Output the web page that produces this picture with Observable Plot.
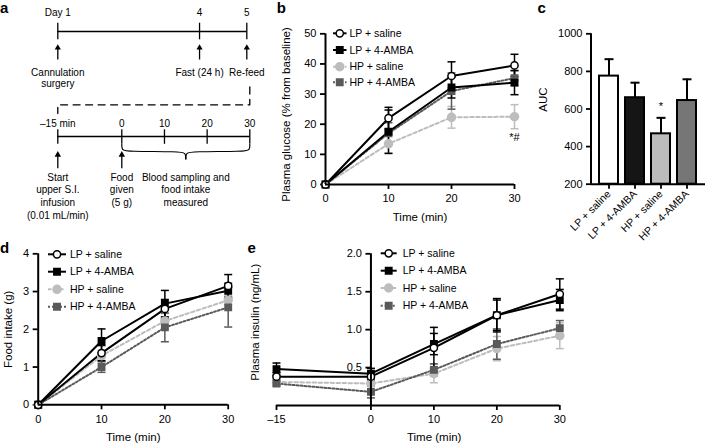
<!DOCTYPE html>
<html><head><meta charset="utf-8">
<script src="https://cdn.jsdelivr.net/npm/d3@7"></script>
<script src="https://cdn.jsdelivr.net/npm/@observablehq/plot@0.6"></script>
<style>
body{margin:0;background:#fff;}
#fig{position:relative;width:705px;height:444px;overflow:hidden;background:#fff;font-family:"Liberation Sans",Arial,sans-serif;}
#fig > *{position:absolute;}
.plab{font-weight:bold;font-size:15px;line-height:15px;color:#000;}
</style></head><body><div id="fig"></div>
<script>
// ---------------- data ----------------
const groups = ["LP + saline", "LP + 4-AMBA", "HP + saline", "HP + 4-AMBA"];

// panel a (protocol timeline)
const days = [1, 4, 5];
const dayLabels = ["Day 1", "4", "5"];
const dayEvents = ["Cannulation\nsurgery", "Fast (24 h)", "Re-feed"];
const minutes = [-15, 0, 10, 20, 30];
const minuteLabels = ["\u201315 min", "0", "10", "20", "30"];
const arrowMinutes = [-15, 0];
const minuteEventX = [-15, 0, 15];
const minuteEvents = ["Start\nupper S.I.\ninfusion\n(0.01 mL/min)", "Food\ngiven\n(5 g)", "Blood sampling and\nfood intake\nmeasured"];

// panel b: plasma glucose (% from baseline)
const timeB = [0, 10, 20, 30];
const glucLPsal = [0, 22, 36, 39.5];
const glucLPsalSem = [0, 3.6, 4.7, 3.7];
const glucLPamba = [0, 17.5, 32.2, 33.8];
const glucLPambaSem = [0, 7.2, 3.5, 4];
const glucHPsal = [0, 13.5, 22.3, 22.5];
const glucHPsalSem = [0, 3, 3.6, 4];
const glucHPamba = [0, 17, 31, 35.3];
const glucHPambaSem = [0, 3.5, 6, 2.5];
const glucTicks = [0, 10, 20, 30, 40, 50];

// panel c: AUC
const aucMean = [775, 660, 468, 645];
const aucSem = [90, 80, 85, 113];
const aucTicks = [200, 400, 600, 800, 1000];

// panel d: food intake (g)
const timeD = [0, 10, 20, 30];
const foodLPsal = [0, 1.37, 2.54, 3.15];
const foodLPsalSem = [0, 0.2, 0.25, 0.3];
const foodLPamba = [0, 1.69, 2.68, 3.02];
const foodLPambaSem = [0, 0.32, 0.35, 0.2];
const foodHPsal = [0, 1.3, 2.22, 2.77];
const foodHPsalSem = [0, 0.15, 0.2, 0.12];
const foodHPamba = [0, 1.0, 2.05, 2.58];
const foodHPambaSem = [0, 0.14, 0.38, 0.52];
const foodTicks = [0, 1, 2, 3, 4];

// panel e: plasma insulin (ng/mL)
const timeE = [-15, 0, 10, 20, 30];
const insLPsal = [0.38, 0.38, 0.76, 1.19, 1.47];
const insLPsalSem = [0.05, 0.06, 0.27, 0.22, 0.2];
const insLPamba = [0.48, 0.42, 0.81, 1.19, 1.39];
const insLPambaSem = [0.08, 0.07, 0.14, 0.2, 0.14];
const insHPsal = [0.31, 0.29, 0.42, 0.75, 0.92];
const insHPsalSem = [0.03, 0.04, 0.12, 0.16, 0.17];
const insHPamba = [0.29, 0.18, 0.47, 0.81, 1.02];
const insHPambaSem = [0.03, 0.08, 0.08, 0.2, 0.1];
const insTicks = [0.5, 1.0, 1.5, 2.0];

// ---------------- styles ----------------
const FONT = '"Liberation Sans", Arial, sans-serif';
const styles = {
  "LP + saline": {stroke: "#000", dash: null, sym: "circle", fill: "#fff", r: 3.6},
  "LP + 4-AMBA": {stroke: "#000", dash: null, sym: "square", fill: "#000", r: 3.6},
  "HP + saline": {stroke: "#bdbdbd", dash: "3.5,2.5", sym: "circle", fill: "#bdbdbd", r: 4},
  "HP + 4-AMBA": {stroke: "#5a5a5a", dash: "2,2", sym: "square", fill: "#5a5a5a", r: 3.6}
};
const barFill = ["#ffffff", "#151515", "#bcbcbc", "#767676"];
const capSym = {draw(ctx, size) { const w = Math.sqrt(size / Math.PI); ctx.moveTo(-w, 0); ctx.lineTo(w, 0); }};
const fig = document.getElementById("fig");

function rows(t, m, e, g) { return t.map((x, i) => ({t: x, m: m[i], e: e[i], g})); }

function place(el, left, top) {
  el.style.left = left + "px"; el.style.top = top + "px";
  el.style.background = "transparent"; el.style.overflow = "visible"; el.style.maxWidth = "none";
  fig.appendChild(el);
}

function seriesMarks(series) {
  const order = [2, 3, 1, 0];
  const marks = [];
  for (const i of order) {
    const d = series[i]; const st = styles[d[0].g];
    const de = d.filter(r => r.e > 0);
    marks.push(Plot.ruleX(de, {x: "t", y1: r => r.m - r.e, y2: r => r.m + r.e, stroke: st.stroke, strokeWidth: 1.5}));
    marks.push(Plot.dot(de, {x: "t", y: r => r.m + r.e, symbol: capSym, r: 4, stroke: st.stroke, strokeWidth: 1.5, fill: "none"}));
    marks.push(Plot.dot(de, {x: "t", y: r => r.m - r.e, symbol: capSym, r: 4, stroke: st.stroke, strokeWidth: 1.5, fill: "none"}));
  }
  for (const i of order) {
    const d = series[i]; const st = styles[d[0].g];
    marks.push(Plot.line(d, {x: "t", y: "m", stroke: st.stroke, strokeWidth: 2, strokeDasharray: st.dash}));
  }
  for (const i of order) {
    const d = series[i]; const st = styles[d[0].g];
    marks.push(Plot.dot(d, {x: "t", y: "m", symbol: st.sym, r: st.r, fill: st.fill, stroke: st.stroke, strokeWidth: 1.5}));
  }
  return marks;
}

function addLegend(svg, x0, x1, xt, ys) {
  const g = d3.select(svg).append("g").attr("font-size", 10.5).attr("font-family", FONT).attr("text-anchor", "start");
  groups.forEach((name, i) => {
    const st = styles[name]; const y = ys[i];
    g.append("line").attr("x1", x0).attr("x2", x1).attr("y1", y).attr("y2", y)
      .attr("stroke", st.stroke).attr("stroke-width", 2).attr("stroke-dasharray", st.dash);
    g.append("path").attr("transform", `translate(${(x0 + x1) / 2},${y})`)
      .attr("d", d3.symbol(st.sym === "circle" ? d3.symbolCircle : d3.symbolSquare, st.r * st.r * Math.PI)())
      .attr("fill", st.fill).attr("stroke", st.stroke).attr("stroke-width", 1.5);
    g.append("text").attr("x", xt).attr("y", y).attr("dy", "0.35em").attr("fill", "#000").attr("text-anchor", "start").text(name);
  });
}

const baseStyle = {fontFamily: FONT, fontSize: "11px", background: "transparent", overflow: "visible", color: "#000"};
const yLabel = (text, dx, dy) => Plot.text([text], {frameAnchor: "left", rotate: -90, dx, dy, textAnchor: "middle", lineAnchor: "middle", fontSize: 11.5, text: d => d});
const xLabel = (text, dx, dy) => Plot.text([text], {frameAnchor: "bottom", dx, dy, textAnchor: "middle", lineAnchor: "middle", fontSize: 11.5, text: d => d});

// ---------------- panel a ----------------
const a1 = Plot.plot({
  width: 270, height: 92, marginLeft: 57.3, marginRight: 23.7, marginTop: 0, marginBottom: 0,
  x: {domain: [1, 5], axis: null}, y: {domain: [92, 0], axis: null},
  style: {...baseStyle, fontSize: "10px"},
  marks: [
    Plot.ruleY([31], {x1: 1, x2: 5, strokeWidth: 1.3}),
    Plot.ruleX(days, {x: d => d, y1: 22.7, y2: 39.3, strokeWidth: 1.3}),
    Plot.text(days, {x: d => d, y: 12.7, text: (d, i) => dayLabels[i], fontSize: 10}),
    Plot.ruleX(days, {x: d => d, y1: 48, y2: 59.5, strokeWidth: 1.3}),
    Plot.dot(days, {x: d => d, y: 47.3, symbol: "triangle", r: 2.3, fill: "#000"}),
    Plot.text(days, {x: d => d, y: 67.5, text: (d, i) => dayEvents[i], lineAnchor: "top", lineHeight: 1.1, fontSize: 10})
  ]
});
place(a1, 0, 0);

const a2 = Plot.plot({
  width: 270, height: 146, marginLeft: 57.3, marginRight: 20.7, marginTop: 0, marginBottom: 0,
  x: {domain: [-15, 30], axis: null}, y: {domain: [230, 84], axis: null},
  style: {...baseStyle, fontSize: "10px"},
  marks: [
    Plot.line([[30, 86.5], [30, 104.3], [-15, 104.3], [-15, 113]], {x: d => d[0], y: d => d[1], strokeWidth: 1.3, strokeDasharray: "7,5.5"}),
    Plot.text(minutes, {x: d => d, y: 123.3, text: (d, i) => minuteLabels[i], fontSize: 10}),
    Plot.ruleY([136], {x1: -15, x2: 30, strokeWidth: 1.3}),
    Plot.ruleX(minutes, {x: d => d, y1: 129.3, y2: 143.8, strokeWidth: 1.3}),
    Plot.ruleX(arrowMinutes, {x: d => d, y1: 155, y2: 168.3, strokeWidth: 1.3}),
    Plot.dot(arrowMinutes, {x: d => d, y: 154.3, symbol: "triangle", r: 2.4, fill: "#000"}),
    Plot.line([[0, 143.8], [0, 149.5], [1.2, 151], [13.6, 151], [15, 152.5], [15, 158.5]], {x: d => d[0], y: d => d[1], curve: "basis", strokeWidth: 1.2}),
    Plot.line([[15, 158.5], [15, 152.5], [16.4, 151], [28.8, 151], [30, 149.5], [30, 143.8]], {x: d => d[0], y: d => d[1], curve: "basis", strokeWidth: 1.2}),
    Plot.text(minuteEventX, {x: d => d, y: 171.2, text: (d, i) => minuteEvents[i], lineAnchor: "top", lineHeight: 1.27, fontSize: 10})
  ]
});
place(a2, 0, 84);

// ---------------- panel b ----------------
const seriesB = [
  rows(timeB, glucLPsal, glucLPsalSem, groups[0]),
  rows(timeB, glucLPamba, glucLPambaSem, groups[1]),
  rows(timeB, glucHPsal, glucHPsalSem, groups[2]),
  rows(timeB, glucHPamba, glucHPambaSem, groups[3])
];
const pb = Plot.plot({
  width: 280, height: 230, marginLeft: 65, marginRight: 26, marginTop: 33.3, marginBottom: 46,
  x: {domain: [0, 30]}, y: {domain: [0, 50]},
  style: baseStyle,
  marks: [
    Plot.axisX({ticks: timeB, tickSize: 5, tickPadding: 5, strokeWidth: 1.8, label: null, tickFormat: d => String(d)}),
    Plot.axisY({ticks: glucTicks, tickSize: 5, tickPadding: 4, strokeWidth: 1.8, label: null, tickFormat: d => String(d)}),
    ...seriesMarks(seriesB),
    Plot.ruleX([0], {strokeWidth: 2}),
    Plot.ruleY([0], {strokeWidth: 2}),
    Plot.text(["*#"], {x: 30, y: 15.5, text: d => d, fontSize: 11}),
    yLabel("Plasma glucose (% from baseline)", -39, 5.3),
    xLabel("Time (min)", 0, 32.7)
  ]
});
addLegend(pb, 73, 86.5, 89.5, [33.3, 50, 66.7, 82.3]);
place(pb, 260, 0);

// ---------------- panel c ----------------
const aucRows = groups.map((g, i) => ({g, m: aucMean[i], e: aucSem[i]}));
const pc = Plot.plot({
  width: 185, height: 230, marginLeft: 71, marginRight: 0, marginTop: 33.3, marginBottom: 46.3,
  x: {domain: groups, paddingInner: 0.26, paddingOuter: 0.28, label: null},
  y: {domain: [200, 1000]},
  color: {domain: groups, range: barFill},
  style: baseStyle,
  marks: [
    Plot.ruleX(aucRows, {x: "g", y1: "m", y2: d => d.m + d.e, strokeWidth: 2}),
    Plot.dot(aucRows, {x: "g", y: d => d.m + d.e, symbol: capSym, r: 4.5, stroke: "#000", strokeWidth: 2, fill: "none"}),
    Plot.barY(aucRows, {x: "g", y1: 200, y2: "m", fill: "g", stroke: "#000", strokeWidth: 2}),
    Plot.text(aucRows.filter(d => d.g === "HP + saline"), {x: "g", y: d => d.m + d.e, dy: -11, text: () => "*", fontSize: 11}),
    Plot.ruleY([200], {strokeWidth: 2}),
    Plot.axisX({tickRotate: -45, tickSize: 5, tickPadding: 3, strokeWidth: 1.8, label: null, fontSize: 10.5}),
    Plot.axisY({ticks: aucTicks, tickSize: 5, tickPadding: 4, strokeWidth: 1.8, label: null, tickFormat: d => String(d)}),
    yLabel("AUC", -48, -9.5)
  ]
});
{
  const ys = pc.scale("y");
  d3.select(pc).append("line").attr("x1", 71).attr("x2", 71)
    .attr("y1", ys.apply(200)).attr("y2", ys.apply(1000)).attr("stroke", "#000").attr("stroke-width", 2);
}
place(pc, 520, 0);

// ---------------- panel d ----------------
const seriesD = [
  rows(timeD, foodLPsal, foodLPsalSem, groups[0]),
  rows(timeD, foodLPamba, foodLPambaSem, groups[1]),
  rows(timeD, foodHPsal, foodHPsalSem, groups[2]),
  rows(timeD, foodHPamba, foodHPambaSem, groups[3])
];
const pd = Plot.plot({
  width: 245, height: 214, marginLeft: 37.7, marginRight: 17.3, marginTop: 23.3, marginBottom: 39.7,
  x: {domain: [0, 30]}, y: {domain: [0, 4]},
  style: baseStyle,
  marks: [
    Plot.axisX({ticks: timeD, tickSize: 5, tickPadding: 5, strokeWidth: 1.8, label: null, tickFormat: d => String(d)}),
    Plot.axisY({ticks: foodTicks, tickSize: 5, tickPadding: 4, strokeWidth: 1.8, label: null, tickFormat: d => String(d)}),
    ...seriesMarks(seriesD),
    Plot.ruleX([0], {strokeWidth: 2}),
    Plot.ruleY([0], {strokeWidth: 2}),
    yLabel("Food intake (g)", -29.4, 0),
    xLabel("Time (min)", 0, 32.4)
  ]
});
addLegend(pd, 48, 66, 70, [24.3, 41.7, 59.3, 76.7]);
place(pd, 0, 230);

// ---------------- panel e ----------------
const seriesE = [
  rows(timeE, insLPsal, insLPsalSem, groups[0]),
  rows(timeE, insLPamba, insLPambaSem, groups[1]),
  rows(timeE, insHPsal, insHPsalSem, groups[2]),
  rows(timeE, insHPamba, insHPambaSem, groups[3])
];
const pe = Plot.plot({
  width: 330, height: 214, marginLeft: 36, marginRight: 10.7, marginTop: 23.3, marginBottom: 39,
  x: {domain: [-15, 30]}, y: {domain: [0, 2], axis: null},
  style: baseStyle,
  marks: [
    Plot.axisX({ticks: timeE, tickSize: 5, tickPadding: 5, strokeWidth: 1.8, label: null, tickFormat: d => d < 0 ? "\u2013" + Math.abs(d) : String(d)}),
    Plot.ruleY(insTicks, {y: d => d, x1: -0.8, x2: 0, strokeWidth: 1.8}),
    Plot.text(insTicks, {x: 0, y: d => d, dx: -9, textAnchor: "end", text: d => d.toFixed(1)}),
    ...seriesMarks(seriesE),
    Plot.ruleX([0], {y1: 0, y2: 2, strokeWidth: 2}),
    Plot.ruleY([0], {x1: -15, x2: 30, strokeWidth: 2}),
    yLabel("Plasma insulin (ng/mL)", -21, -7.5),
    xLabel("Time (min)", 16, 31.7)
  ]
});
addLegend(pe, 140.7, 156.7, 162.7, [23.3, 40.7, 58, 75.7]);
place(pe, 240, 230);

// ---------------- panel letters ----------------
[["a", 0, 0], ["b", 276.8, 0], ["c", 537.5, 0], ["d", 0, 239.5], ["e", 247.5, 240.2]].forEach(([t, l, tp]) => {
  const el = document.createElement("div");
  el.className = "plab"; el.textContent = t;
  el.style.left = l + "px"; el.style.top = tp + "px";
  fig.appendChild(el);
});
</script></body></html>
